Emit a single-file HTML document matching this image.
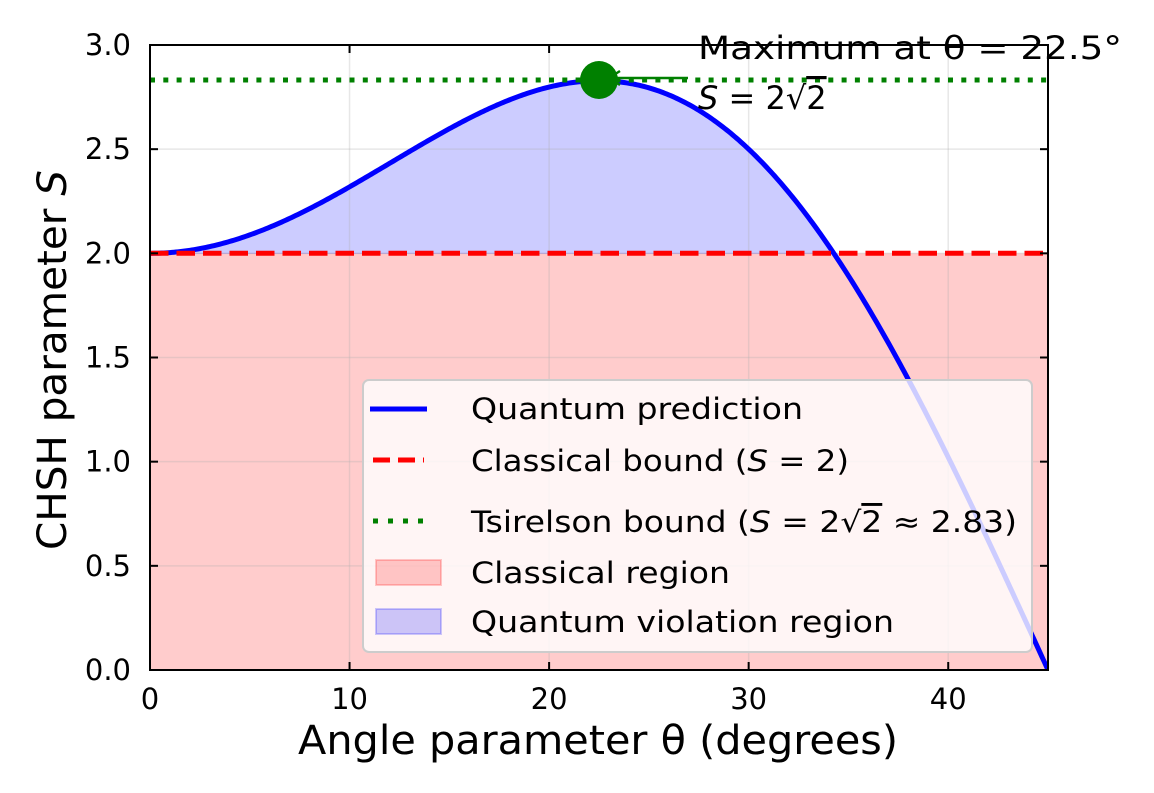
<!DOCTYPE html>
<html><head><meta charset="utf-8"><style>
body{margin:0;background:#fff;}
svg{display:block;font-family:"DejaVu Sans","Liberation Sans",sans-serif;}
</style></head><body>
<svg id="s" width="1154" height="793" viewBox="0 0 1154 793" xmlns="http://www.w3.org/2000/svg">
<defs><clipPath id="c"><rect x="150" y="45" width="898" height="625"/></clipPath></defs>
<g clip-path="url(#c)">
<rect x="150" y="253.3" width="898" height="416.7" fill="#ff0000" fill-opacity="0.2"/>
<path id="fillq" fill="#0000ff" fill-opacity="0.2" stroke="#0000ff" stroke-opacity="0.2"/>
<g id="grid" stroke="#b0b0b0" stroke-opacity="0.3" stroke-width="1.5"></g>
<path id="curve" fill="none" stroke="#0000ff" stroke-width="5"/>
<line x1="150" y1="253.3" x2="1048" y2="253.3" stroke="#ff0000" stroke-width="5" stroke-dasharray="18.5,8"/>
<line x1="150" y1="80" x2="1048" y2="80" stroke="#008000" stroke-width="5" stroke-dasharray="5,8.3"/>
</g>
<line x1="600" y1="78" x2="688" y2="78" stroke="#008000" stroke-width="2.5"/>
<path d="M620,71 L609,78 L620,85" fill="none" stroke="#008000" stroke-width="2.5"/>
<circle cx="599" cy="80" r="19" fill="#008000"/>
<g font-size="32" fill="#000">
<text x="698" y="59" textLength="424" lengthAdjust="spacingAndGlyphs">Maximum at θ = 22.5°</text>
<text x="698" y="109"><tspan font-style="italic">S</tspan> = 2√<tspan text-decoration="overline">2</tspan></text>
</g>
<!-- legend -->
<rect x="363" y="380" width="669" height="272" rx="6" fill="#fff" fill-opacity="0.8" stroke="#cccccc" stroke-width="2"/>
<g font-size="29" fill="#000">
<line x1="370" y1="409" x2="427" y2="409" stroke="#0000ff" stroke-width="5"/>
<text x="471" y="419" textLength="332" lengthAdjust="spacingAndGlyphs">Quantum prediction</text>
<line x1="373" y1="460" x2="424" y2="460" stroke="#ff0000" stroke-width="5" stroke-dasharray="17,8"/>
<text x="471" y="471" textLength="378" lengthAdjust="spacingAndGlyphs">Classical bound (<tspan font-style="italic">S</tspan> = 2)</text>
<line x1="373" y1="521" x2="424" y2="521" stroke="#008000" stroke-width="5" stroke-dasharray="5,10"/>
<text x="471" y="532" textLength="546" lengthAdjust="spacingAndGlyphs">Tsirelson bound (<tspan font-style="italic">S</tspan> = 2√<tspan text-decoration="overline">2</tspan> ≈ 2.83)</text>
<rect x="376" y="560" width="65" height="25" fill="#ff0000" fill-opacity="0.2" stroke="#ff0000" stroke-opacity="0.2" stroke-width="2"/>
<text x="471" y="583" textLength="259" lengthAdjust="spacingAndGlyphs">Classical region</text>
<rect x="376" y="609" width="65" height="25" fill="#0000ff" fill-opacity="0.2" stroke="#0000ff" stroke-opacity="0.2" stroke-width="2"/>
<text x="471" y="632" textLength="423" lengthAdjust="spacingAndGlyphs">Quantum violation region</text>
</g>
<rect x="150" y="45" width="898" height="625" fill="none" stroke="#000" stroke-width="2"/>
<g id="ticks" stroke="#000" stroke-width="2"></g>
<g id="labels" font-size="32" fill="#000"></g>
<text x="598" y="754" font-size="40" text-anchor="middle" textLength="600" lengthAdjust="spacingAndGlyphs">Angle parameter θ (degrees)</text>
<text transform="translate(66,360) rotate(-90)" font-size="40" text-anchor="middle" textLength="380" lengthAdjust="spacingAndGlyphs">CHSH parameter <tspan font-style="italic">S</tspan></text>
</svg>
<script>
var X=t=>150+t*898/45, Y=v=>670-v*625/3;
var S=t=>{var r=t*Math.PI/180;return 3*Math.cos(2*r)-Math.cos(6*r);};
var d="";
for(var i=0;i<=450;i++){var t=i/10;d+=(i?"L":"M")+X(t).toFixed(2)+","+Y(S(t)).toFixed(2);}
document.getElementById("curve").setAttribute("d",d);
var pts=[];for(var i=0;i<=344;i++){var t=i/10;pts.push(X(t).toFixed(2)+","+Y(Math.max(2,S(t))).toFixed(2));}
document.getElementById("fillq").setAttribute("d","M"+pts.join("L")+"L"+X(34.4)+","+Y(2)+"L150,"+Y(2)+"Z");
var g=document.getElementById("grid"),tk=document.getElementById("ticks"),lb=document.getElementById("labels"),ns="http://www.w3.org/2000/svg";
function el(p,n,a){var e=document.createElementNS(ns,n);for(var k in a)e.setAttribute(k,a[k]);p.appendChild(e);return e;}
[0,10,20,30,40].forEach(function(v){var x=X(v);el(g,"line",{x1:x,x2:x,y1:45,y2:670});
el(tk,"line",{x1:x,x2:x,y1:670,y2:662});el(tk,"line",{x1:x,x2:x,y1:45,y2:53});
var t=el(lb,"text",{x:x,y:709,"text-anchor":"middle","font-size":"29"});t.textContent=v;});
[0,0.5,1,1.5,2,2.5,3].forEach(function(v){var y=Y(v);el(g,"line",{x1:150,x2:1048,y1:y,y2:y});
el(tk,"line",{x1:150,x2:158,y1:y,y2:y});el(tk,"line",{x1:1040,x2:1048,y1:y,y2:y});
var t=el(lb,"text",{x:131,y:y+10,"text-anchor":"end","font-size":"29"});t.textContent=v.toFixed(1);});
</script>
</body></html>
